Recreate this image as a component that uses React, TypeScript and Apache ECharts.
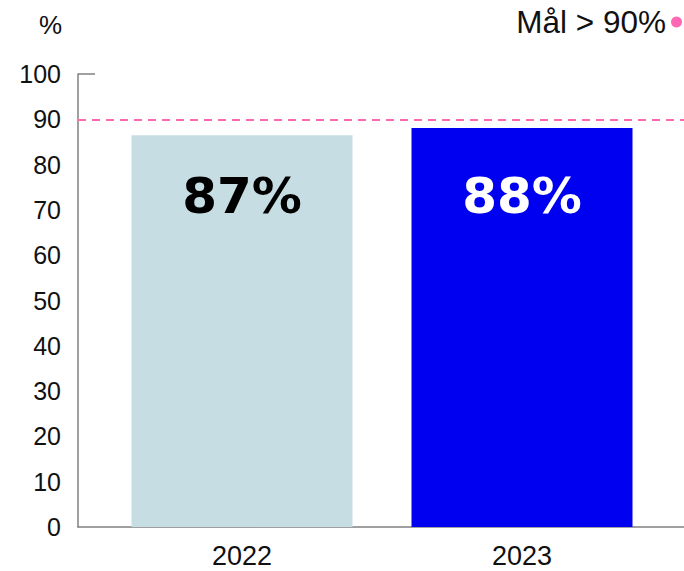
import React, { useEffect, useRef } from "react";
import * as echarts from "echarts";

const categories = ["2022", "2023"];
const values = [86.5, 88.1];
const barColors = ["#c6dde4", "#0000f0"];
const labelColors = ["#000000", "#ffffff"];
const labelLevel = 73;
const targetValue = 90;
const targetName = "Mål > 90%";
const yTicks = { min: 0, max: 100, interval: 10 };

export default function App() {
  const ref = useRef<HTMLDivElement>(null);
  useEffect(() => {
    document.body.style.margin = "0";
    const chart = echarts.init(ref.current!, null, { renderer: "svg" });
    const font = "Liberation Sans, Arial, sans-serif";
    chart.setOption({
      animation: false,
      textStyle: { fontFamily: font },
      title: {
        text: "%",
        left: 34,
        top: 7,
        textStyle: { fontSize: 26, fontWeight: "normal", color: "#111", fontFamily: font },
      },
      legend: {
        right: -3,
        top: 1,
        align: "right",
        itemWidth: 11,
        itemHeight: 11,
        itemGap: 4,
        icon: "circle",
        textStyle: { fontSize: 31.5, color: "#111", fontFamily: font },
        data: [targetName],
      },
      grid: [
        { left: 102, right: 22, top: 74, bottom: 44 },
        { left: 78, right: 0, top: 74, bottom: 44 },
      ],
      xAxis: [
        {
          type: "category",
          gridIndex: 0,
          data: categories,
          axisLine: { show: false },
          axisTick: { show: false },
          axisLabel: { fontSize: 27, color: "#111", margin: 15, fontFamily: font },
        },
        {
          type: "value",
          gridIndex: 1,
          min: 0,
          max: 1,
          axisLine: { show: true, lineStyle: { color: "#808080", width: 1.5 } },
          axisTick: { show: false },
          axisLabel: { show: false },
          splitLine: { show: false },
        },
      ],
      yAxis: [
        {
          type: "value",
          gridIndex: 0,
          min: yTicks.min,
          max: yTicks.max,
          interval: yTicks.interval,
          show: false,
          splitLine: { show: false },
        },
        {
          type: "value",
          gridIndex: 1,
          min: yTicks.min,
          max: yTicks.max,
          interval: yTicks.interval,
          axisLine: { show: true, lineStyle: { color: "#808080", width: 1.5 } },
          axisTick: { show: false },
          splitLine: { show: false },
          axisLabel: { fontSize: 25, color: "#111", margin: 17, fontFamily: font },
        },
      ],
      series: [
        {
          type: "bar",
          xAxisIndex: 0,
          yAxisIndex: 0,
          barWidth: 221,
          data: values.map((v, i) => ({
            value: v,
            itemStyle: { color: barColors[i] },
          })),
        },
        {
          type: "scatter",
          xAxisIndex: 0,
          yAxisIndex: 0,
          symbolSize: 0,
          silent: true,
          itemStyle: { opacity: 1 },
          data: values.map((v, i) => ({
            value: [categories[i], labelLevel],
            label: {
              show: true,
              position: "inside",
              color: labelColors[i],
              opacity: 1,
              fontSize: 50,
              fontWeight: "bold",
              fontFamily: "DejaVu Sans, Verdana, sans-serif",
              formatter: () => Math.round(v) + "%",
            },
          })),
        },
        {
          type: "scatter",
          name: targetName,
          xAxisIndex: 1,
          yAxisIndex: 1,
          data: [],
          itemStyle: { color: "#ff69b4", opacity: 1 },
          markLine: {
            silent: true,
            symbol: "none",
            label: { show: false },
            data: [
              { yAxis: targetValue, lineStyle: { color: "#ff69b4", type: [8, 6], width: 2 } },
              [
                { coord: [0, yTicks.max], lineStyle: { color: "#808080", type: "solid", width: 1.5 } },
                { coord: [0.028, yTicks.max] },
              ],
            ],
          },
        },
      ],
    });
    return () => chart.dispose();
  }, []);
  return <div ref={ref} style={{ width: 684, height: 571 }} />;
}
